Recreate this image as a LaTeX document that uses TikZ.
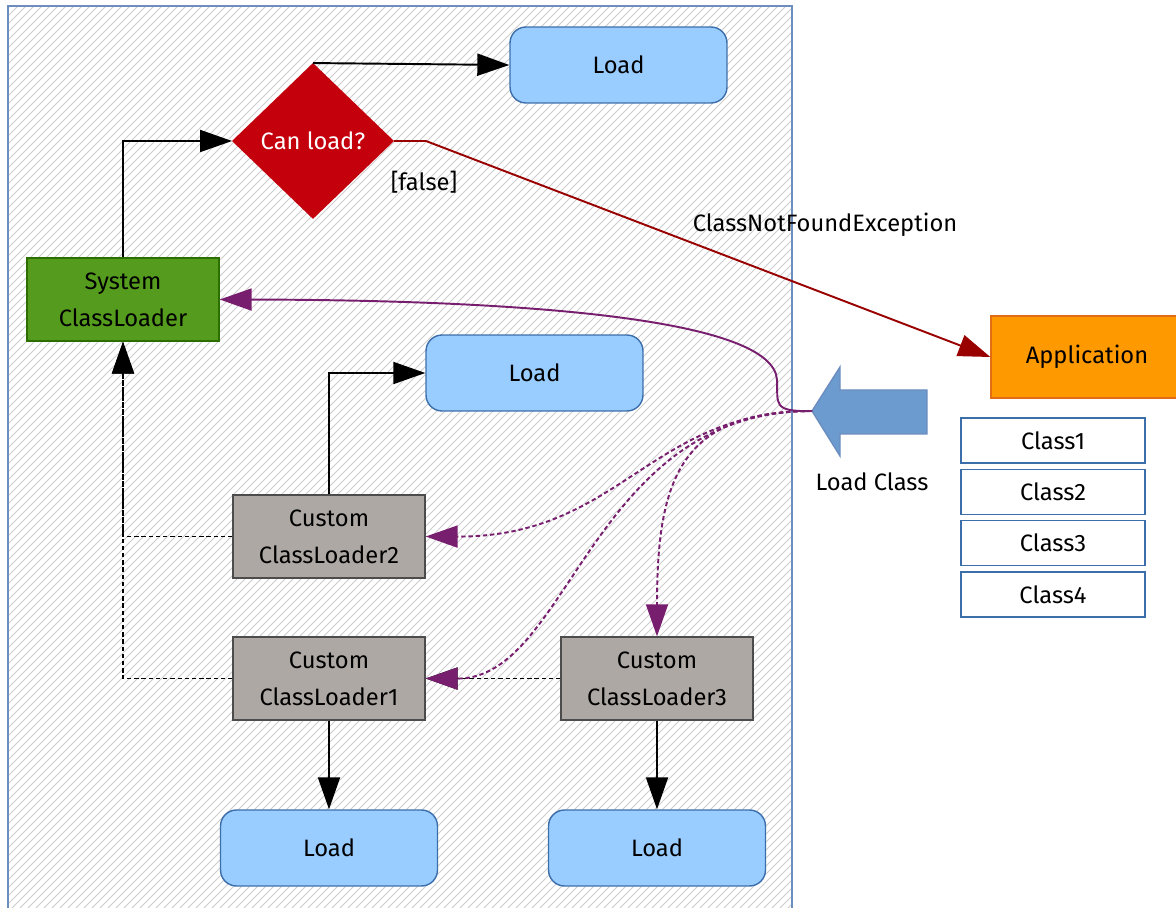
\documentclass[tikz,border=0pt]{standalone}
\usepackage{fontspec}
\setmainfont{Fira Sans}
\usetikzlibrary{arrows.meta,shapes.geometric}

\definecolor{loadfill}{RGB}{153,204,255}
\definecolor{loadline}{RGB}{60,110,170}
\definecolor{canfill}{RGB}{196,0,12}
\definecolor{sysfill}{RGB}{85,156,30}
\definecolor{sysline}{RGB}{45,110,0}
\definecolor{custfill}{RGB}{173,168,163}
\definecolor{appfill}{RGB}{255,153,0}
\definecolor{appline}{RGB}{225,110,20}
\definecolor{bigarrow}{RGB}{108,155,207}
\definecolor{frameline}{RGB}{108,142,191}
\definecolor{hatchgray}{RGB}{205,205,205}
\definecolor{errline}{RGB}{153,0,0}
\definecolor{callline}{RGB}{120,30,110}

\begin{document}
\begin{tikzpicture}[x=0.02cm,y=-0.02cm,line width=1.1pt,
  >={Triangle[length=0.64cm,width=0.44cm]},
  every node/.style={font=\fontsize{13.5}{21}\selectfont},
  loadbox/.style={draw=loadline,fill=loadfill,line width=0.8pt,rounded corners=0.32cm,
    minimum width=4.34cm,minimum height=1.52cm},
  loaderbox/.style={draw=black!70,line width=0.8pt,minimum width=3.84cm,minimum height=1.66cm,align=center},
  classbox/.style={draw=loadline,fill=white,line width=0.8pt,minimum width=3.68cm,minimum height=0.9cm},
  call/.style={callline,->},
  calldot/.style={callline,->,dash pattern=on 2.5pt off 1.6pt}]
  \useasboundingbox (0,0) rectangle (1176,908);
  % bloque rayado
  \begin{scope}
    \clip (8,6) rectangle (792,920);
    \foreach \k in {-920,-912,...,800}
      \draw[hatchgray,line width=0.5pt] (\k,920) -- ++(930,-930);
  \end{scope}
  \draw[frameline,line width=0.8pt] (8,920) -- (8,6) -- (792,6) -- (792,920);

  \node[loadbox] (load1) at (618.5,65) {Load};
  \node[diamond,fill=canfill,draw=canfill,inner sep=0pt,minimum width=3.2cm,minimum height=3.08cm,
    text=white] (can) at (313,141) {Can load?};
  \node[loaderbox,fill=sysfill,draw=sysline] (sys) at (123,299.5) {System\\ClassLoader};
  \node[loadbox] (load2) at (534.5,373) {Load};
  \node[loaderbox,fill=custfill] (cl2) at (329,536.5) {Custom\\ClassLoader2};
  \node[loaderbox,fill=custfill] (cl1) at (329,678.5) {Custom\\ClassLoader1};
  \node[loaderbox,fill=custfill] (cl3) at (657,678.5) {Custom\\ClassLoader3};
  \node[loadbox] (load3) at (329,848) {Load};
  \node[loadbox] (load4) at (657,848) {Load};
  \node[draw=appline,fill=appfill,line width=0.8pt,minimum width=3.84cm,minimum height=1.64cm]
    (app) at (1087,357) {Application};
  \foreach \i in {1,...,4}
    \node[classbox] (class\i) at (1053,{440.5+51.3*(\i-1)}) {Class\i};

  % flecha grande
  \draw[fill=bigarrow,draw=frameline,line width=0.8pt] (812,411) -- (840,367) -- (840,390)
    -- (927,390) -- (927,434) -- (840,434) -- (840,456) -- cycle;
  \coordinate (tip) at (812,411);
  \node (lc) at (872,482) {Load Class};

  % conexiones
  \draw[->] (can.north) -- (load1.west);
  \draw[->] (sys.north) |- (can.west);
  \draw[->] (cl2.north) |- (load2.west);
  \draw[->] (cl1.south) -- (load3.north);
  \draw[->] (cl3.south) -- (load4.north);
  \draw[->,dash pattern=on 2.5pt off 1.6pt] (cl2.west) -| (sys.south);
  \draw[->,dash pattern=on 2.5pt off 1.6pt] (cl1.west) -| (sys.south);
  \draw[->,dash pattern=on 2.5pt off 1.6pt] (cl3.west) -- (cl1.east);
  \draw[errline,->] (can.east) -- ++(32,0) coordinate (bend) -- (app.west);
  \node (fl) at (424,182) {[false]};
  \node (cnfe) at (825,225) {ClassNotFoundException};

  % llamadas
  \draw[call] (tip) .. controls (772,412) and (778,404) .. (777,380)
    .. controls (774,318) and (520,300) .. (sys.east);
  \draw[calldot] (tip) .. controls (650,411) and (620,537) .. (cl2.east);
  \draw[calldot] (tip) .. controls (590,411) and (570,679) .. (cl1.east);
  \draw[calldot] (tip) .. controls (680,411) and (657,480) .. (cl3.north);
\end{tikzpicture}
\end{document}
